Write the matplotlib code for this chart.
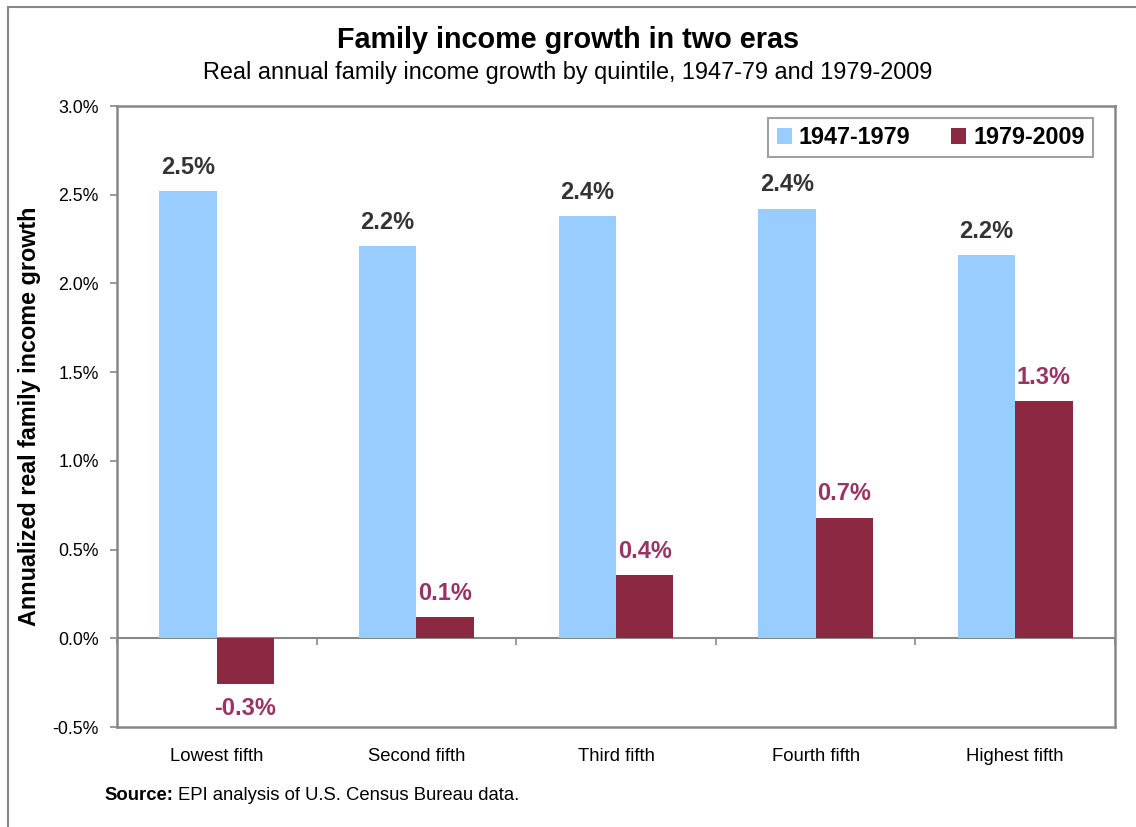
import matplotlib
matplotlib.use("Agg")
import matplotlib.pyplot as plt
from matplotlib.patches import Rectangle
from matplotlib.ticker import FuncFormatter
import numpy as np

categories = ["Lowest fifth", "Second fifth", "Third fifth", "Fourth fifth", "Highest fifth"]
era1_label = "1947-1979"
era2_label = "1979-2009"
era1 = [2.52, 2.21, 2.38, 2.42, 2.16]
era2 = [-0.26, 0.12, 0.355, 0.68, 1.335]
yticks = [-0.5, 0.0, 0.5, 1.0, 1.5, 2.0, 2.5, 3.0]

BLUE = "#99CCFF"
RED = "#8B2942"
RED_TXT = "#993366"
GRAY = "#888888"

plt.rcParams['font.family'] = ['Liberation Sans', 'DejaVu Sans']

fig = plt.figure(figsize=(11.36, 8.27), dpi=100)
ax = fig.add_axes([0.103, 0.1209, 0.8785, 0.7509])

x = np.arange(len(categories))
w = 0.288
ax.bar(x - w / 2, era1, w, color=BLUE, label=era1_label, zorder=2)
ax.bar(x + w / 2, era2, w, color=RED, label=era2_label, zorder=2)

ax.set_xlim(-0.5, len(categories) - 0.5)
ax.set_ylim(yticks[0], yticks[-1])
ax.set_yticks(yticks)
ax.yaxis.set_major_formatter(FuncFormatter(lambda v, p: f"{v:.1f}%"))
ax.tick_params(axis='y', direction='out', length=5, width=1.2, color=GRAY, labelsize=12.8, pad=8)
ax.set_xticks(x)
ax.set_xticklabels(categories)
ax.tick_params(axis='x', length=0, labelsize=13.3, pad=15)
for s in ax.spines.values():
    s.set_color(GRAY)
    s.set_linewidth(1.8)

# zero line with category separator ticks
zero_pos = (0 - yticks[0]) / (yticks[-1] - yticks[0])
sec = ax.secondary_xaxis(zero_pos)
sec.set_xticks(np.arange(-0.5, len(categories) + 0.5, 1.0))
sec.set_xticklabels([])
sec.tick_params(direction='out', length=5, width=1.2, color=GRAY)
sec.spines['bottom'].set_color(GRAY)
sec.spines['bottom'].set_linewidth(1.5)

# value labels
for xi, v in zip(x - w / 2, era1):
    ax.annotate(f"{v:.1f}%", (xi, v), xytext=(0, 9), textcoords='offset points',
                ha='center', va='bottom', fontsize=17, fontweight='bold', color='#333333')
for xi, v in zip(x + w / 2, era2):
    if v >= 0:
        ax.annotate(f"{v:.1f}%", (xi, v), xytext=(0, 9), textcoords='offset points',
                    ha='center', va='bottom', fontsize=17, fontweight='bold', color=RED_TXT)
    else:
        ax.annotate(f"{v:.1f}%", (xi, v), xytext=(0, -9), textcoords='offset points',
                    ha='center', va='top', fontsize=17, fontweight='bold', color=RED_TXT)

ax.set_ylabel("Annualized real family income growth", fontsize=16.8, fontweight='bold', labelpad=8)

leg = ax.legend(loc='upper right', bbox_to_anchor=(0.978, 0.981), ncol=2, frameon=True,
                fancybox=False, borderaxespad=0, fontsize=16.8, handlelength=0.65,
                handleheight=0.65, handletextpad=0.3, columnspacing=1.75, borderpad=0.35)
for t in leg.get_texts():
    t.set_fontweight('bold')
leg.get_frame().set_edgecolor(GRAY)
leg.get_frame().set_linewidth(1.5)

fig.text(0.5, 1 - 40 / 827, "Family income growth in two eras", ha='center', va='center',
         fontsize=20.7, fontweight='bold')
fig.text(0.5, 1 - 73 / 827, "Real annual family income growth by quintile, 1947-79 and 1979-2009",
         ha='center', va='center', fontsize=16.9)

t1 = fig.text(104 / 1136, 1 - 795 / 827, "Source:", ha='left', va='center', fontsize=13.3, fontweight='bold')
fig.canvas.draw()
bb = t1.get_window_extent()
fig.text((bb.x1 + 5) / 1136, 1 - 795 / 827, "EPI analysis of U.S. Census Bureau data.",
         ha='left', va='center', fontsize=13.3)

fig.add_artist(Rectangle((8 / 1136, -0.1), 1.2, 1.1 - 7 / 827, transform=fig.transFigure,
                         fill=False, edgecolor=GRAY, linewidth=1.5, clip_on=False))

fig.savefig("out.png", dpi=100)
